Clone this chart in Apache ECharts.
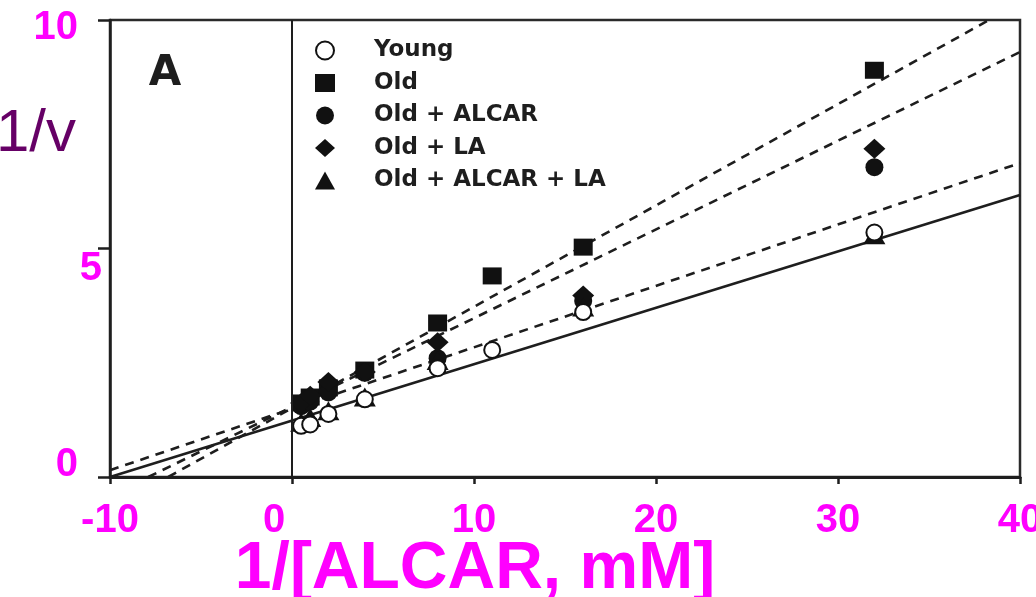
<!DOCTYPE html>
<html>
<head>
<meta charset="utf-8">
<script src="https://cdn.jsdelivr.net/npm/echarts@6/dist/echarts.min.js"></script>
<style>
html,body{margin:0;padding:0;background:#fff;}
#c{width:1036px;height:597px;}
</style>
</head>
<body>
<div id="c"></div>
<script>
// ---- data ----
const seriesNames = ['Young', 'Old', 'Old + ALCAR', 'Old + LA', 'Old + ALCAR + LA'];
const young = [[0.5,1.12],[1,1.15],[2,1.38],[4,1.7],[8,2.38],[11,2.78],[16,3.61],[32,5.35]];
const old = [[0.5,1.62],[1,1.75],[2,1.95],[4,2.34],[8,3.37],[11,4.4],[16,5.03],[32,8.9]];
const oldAlcar = [[0.5,1.55],[1,1.65],[2,1.85],[4,2.28],[8,2.6],[16,3.85],[32,6.78]];
const oldLa = [[0.5,1.62],[1,1.78],[2,2.08],[4,2.3],[8,2.95],[16,3.97],[32,7.18]];
const oldAlcarLa = [[0.5,1.2],[1,1.3],[2,1.45],[4,1.75],[8,2.55],[16,3.72],[32,5.3]];
// fitted lines (endpoints)
const fitYoung = [[-10,0],[40,6.17]];
const fitOld = [[-6.8,0],[38.3,10]];
const fitMid = [[-7.9,0],[40,9.3]];
const fitLow = [[-10,0.15],[40,6.87]];
const xTickValues = [-10, 0, 10, 20, 30, 40];
const yTickValues = [0, 5, 10];
const xTitle = '1/[ALCAR, mM]';
const yTitle = '1/v';
const panelLabel = 'A';

const MAG = '#ff00ff';
const INK = '#1e1e1e';

const chart = echarts.init(document.getElementById('c'), null, {renderer:'canvas'});

function fitSeries(data, dashed){
  return {
    type:'line', data:data, symbol:'none', silent:true, z:2,
    lineStyle:{color:INK, width:2.6, type: dashed ? [9,7] : 'solid'},
    legendHoverLink:false
  };
}

const option = {
  animation:false,
  backgroundColor:'#fff',
  grid:{left:110, right:16, top:20, bottom:120, show:true, borderColor:'#2a2a2a', borderWidth:2.5, outerBoundsMode:'none', containLabel:false},
  legend:{
    data: seriesNames,
    orient:'vertical', left:310, top:34,
    itemWidth:20, itemHeight:18, itemGap:9.5,
    textStyle:{fontFamily:'DejaVu Sans', fontWeight:'bold', fontSize:23, color:INK, padding:[0,0,0,34]},
    selectedMode:false
  },
  xAxis:{
    type:'value', min:-10, max:40, interval:10,
    axisLine:{show:true, onZero:false, lineStyle:{color:INK, width:3}},
    axisTick:{show:true, inside:false, length:7, lineStyle:{color:INK, width:2.5}},
    splitLine:{show:false},
    axisLabel:{
      margin:24, color:MAG, fontFamily:'Liberation Sans', fontWeight:'bold', fontSize:40,
      formatter:function(v){ return v === 0 ? '{z|0}' : '{n|' + v + '}'; },
      rich:{
        z:{color:MAG, fontFamily:'Liberation Sans', fontWeight:'bold', fontSize:40, padding:[0,36,0,0]},
        n:{color:MAG, fontFamily:'Liberation Sans', fontWeight:'bold', fontSize:40}
      }
    }
  },
  yAxis:{
    type:'value', min:0, max:10, interval:5,
    axisLine:{show:true, onZero:false, lineStyle:{color:INK, width:2.5}},
    axisTick:{show:true, inside:false, length:12, lineStyle:{color:INK, width:2.5}},
    splitLine:{show:false},
    axisLabel:{
      margin:8, color:MAG, fontFamily:'Liberation Sans', fontWeight:'bold', fontSize:40,
      formatter:function(v){ return v === 0 ? '{a|0}' : (v === 5 ? '{b|5}' : '{c|10}'); },
      rich:{
        a:{color:MAG, fontFamily:'Liberation Sans', fontWeight:'bold', fontSize:40, padding:[0,24,24,0]},
        b:{color:MAG, fontFamily:'Liberation Sans', fontWeight:'bold', fontSize:40, padding:[40,0,0,0]},
        c:{color:MAG, fontFamily:'Liberation Sans', fontWeight:'bold', fontSize:40, padding:[16,24,0,0]}
      }
    }
  },
  graphic:[
    {type:'text', left:-4, top:104, style:{text:yTitle, fill:'#660066', font:'normal 60px "Liberation Sans", Arial, sans-serif'}},
    {type:'text', x:475, y:570, style:{text:xTitle, fill:MAG, textAlign:'center', textVerticalAlign:'middle', font:'bold 66px "Liberation Sans", Arial, sans-serif'}},
    {type:'text', x:165, y:74, style:{text:panelLabel, fill:INK, textAlign:'center', textVerticalAlign:'middle', font:'bold 42px "DejaVu Sans", sans-serif'}}
  ],
  series:[
    Object.assign(fitSeries(fitYoung, false), {
      markLine:{silent:true, symbol:['none','none'], label:{show:false}, lineStyle:{color:INK, width:2, type:'solid'}, data:[{xAxis:0}]}
    }),
    fitSeries(fitOld, true),
    fitSeries(fitMid, true),
    fitSeries(fitLow, true),
    {name:'Old', type:'scatter', data:old, symbol:'rect', symbolSize:[19,17], z:3, itemStyle:{color:'#111', opacity:1}},
    {name:'Old + ALCAR', type:'scatter', data:oldAlcar, symbol:'circle', symbolSize:18, z:3, itemStyle:{color:'#111', opacity:1}},
    {name:'Old + LA', type:'scatter', data:oldLa, symbol:'diamond', symbolSize:[22,20], z:3, itemStyle:{color:'#111', opacity:1}},
    {name:'Old + ALCAR + LA', type:'scatter', data:oldAlcarLa, symbol:'triangle', symbolSize:[22,19], z:3, itemStyle:{color:'#111', opacity:1}},
    {name:'Young', type:'scatter', data:young, symbol:'emptyCircle', symbolSize:16, z:4, itemStyle:{color:'#111', borderColor:'#111', borderWidth:3, opacity:1}}
  ]
};
chart.setOption(option);
</script>
</body>
</html>
